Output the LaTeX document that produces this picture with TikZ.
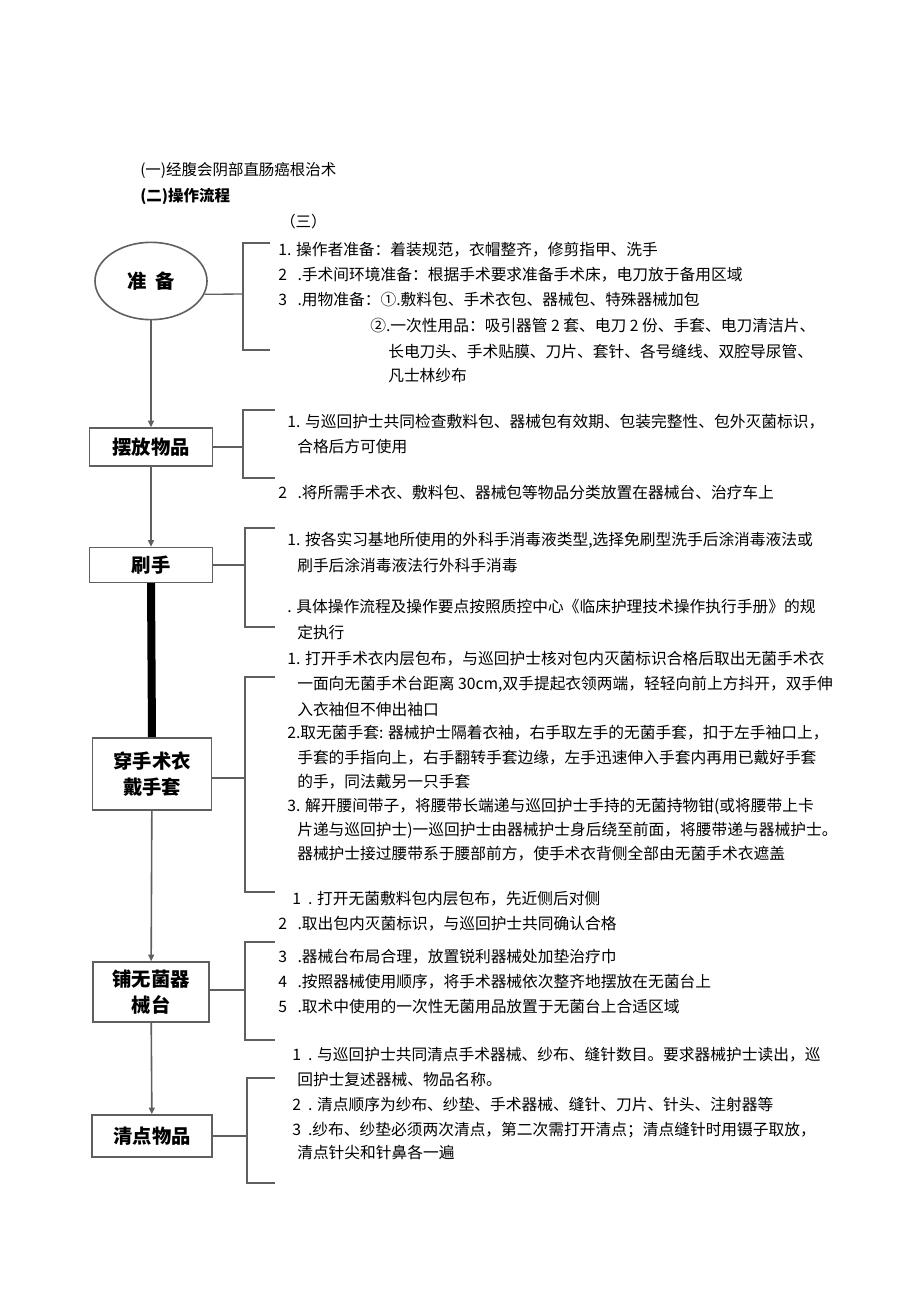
\documentclass[tikz,border=0pt]{standalone}
\usepackage{fontspec}
\setmainfont{Noto Sans CJK SC}
\usetikzlibrary{arrows.meta, calc, shapes.geometric}
\definecolor{LineGray}{RGB}{95, 95, 95}

\tikzset{
  stepbox/.style={draw=LineGray, line width=1.2pt, fill=white, align=center, inner sep=0pt,
    font=\fontsize{14.5}{19}\selectfont\bfseries},
  brk/.style={draw=LineGray, line width=1pt},
  flow/.style={draw=LineGray, line width=1.2pt, -{Triangle[length=5pt,width=4.5pt]}},
  txt/.style={anchor=west, inner sep=0pt, font=\fontsize{11.8}{14}\selectfont},
}

\begin{document}
\begin{tikzpicture}[x=0.75pt, y=-0.75pt]
\useasboundingbox (0,0) rectangle (920,1301);

% heading
\node[txt, font=\fontsize{11.6}{14}\selectfont] (h1) at (140,170) {(一)经腹会阴部直肠癌根治术};
\node[txt, font=\fontsize{11.6}{14}\selectfont\bfseries] (h2) at (140,196) {(二)操作流程};
\node[txt, font=\fontsize{11.6}{14}\selectfont] (h3) at (280,222) {（三）};

% steps
\node[stepbox, ellipse, minimum width=84pt, minimum height=58pt] (prep) at (151,281) {准\ \ 备};
\node[stepbox, minimum width=92pt, minimum height=28.5pt] (place) at (151,447) {摆放物品};
\node[stepbox, minimum width=92pt, minimum height=26pt] (scrub) at (151,565) {刷手};
\node[stepbox, minimum width=89pt, minimum height=54pt] (gown) at (152,774) {穿手术衣\\戴手套};
\node[stepbox, minimum width=87pt, minimum height=45pt] (table) at (151,992) {铺无菌器\\械台};
\node[stepbox, minimum width=90pt, minimum height=31.5pt] (count) at (152,1136) {清点物品};

\draw[flow] (prep) -- (place);
\draw[flow] (place) -- (scrub);
\draw[line width=6pt] (scrub.south) -- (gown.north);
\draw[flow] (gown) -- (table);
\draw[flow] (table) -- (count);

% brackets
\draw[brk] (270,243) -- (243,243) -- (243,350) -- (270,350);
\draw[brk] (275,410) -- (243,410) -- (243,478) -- (275,478);
\draw[brk] (275,528) -- (245,528) -- (245,627) -- (275,627);
\draw[brk] (275,677) -- (245,677) -- (245,892) -- (275,892);
\draw[brk] (275,942) -- (245,942) -- (245,1040) -- (275,1040);
\draw[brk] (275,1078) -- (247,1078) -- (247,1183) -- (275,1183);
\coordinate (b1) at (243,294);
\coordinate (b2) at (243,447);
\coordinate (b3) at (245,565);
\coordinate (b4) at (245,778);
\coordinate (b5) at (245,990);
\coordinate (b6) at (247,1136);
\draw[brk] (prep.-14) -- (b1);
\draw[brk] (place.east |- b2) -- (b2);
\draw[brk] (scrub.east |- b3) -- (b3);
\draw[brk] (gown.east |- b4) -- (b4);
\draw[brk] (table.east |- b5) -- (b5);
\draw[brk] (count.east |- b6) -- (b6);

% texts
\foreach \x/\y/\t [count=\i] in {
  278/250/{1. 操作者准备：着装规范，衣帽整齐，修剪指甲、洗手},
  278/275/{2\ \ \ .手术间环境准备：根据手术要求准备手术床，电刀放于备用区域},
  278/300/{3\ \ \ .用物准备：①.敷料包、手术衣包、器械包、特殊器械加包},
  370/326/{②.一次性用品：吸引器管 2 套、电刀 2 份、手套、电刀清洁片、},
  388/351/{长电刀头、手术贴膜、刀片、套针、各号缝线、双腔导尿管、},
  388/376/{凡士林纱布}}
  \node[txt] (pa\i) at (\x,\y) {\t};

\foreach \x/\y/\t [count=\i] in {
  287/422/{1. 与巡回护士共同检查敷料包、器械包有效期、包装完整性、包外灭菌标识，},
  297/447/{合格后方可使用},
  278/493/{2\ \ \ .将所需手术衣、敷料包、器械包等物品分类放置在器械台、治疗车上}}
  \node[txt] (pb\i) at (\x,\y) {\t};

\foreach \x/\y/\t [count=\i] in {
  287/540/{1. 按各实习基地所使用的外科手消毒液类型{,}选择免刷型洗手后涂消毒液法或},
  297/565/{刷手后涂消毒液法行外科手消毒},
  287/607/{. 具体操作流程及操作要点按照质控中心《临床护理技术操作执行手册》的规},
  297/632/{定执行}}
  \node[txt] (pc\i) at (\x,\y) {\t};

\foreach \x/\y/\t [count=\i] in {
  287/659/{1. 打开手术衣内层包布，与巡回护士核对包内灭菌标识合格后取出无菌手术衣},
  297/684/{一面向无菌手术台距离 30cm{,}双手提起衣领两端，轻轻向前上方抖开，双手伸},
  297/709/{入衣袖但不伸出袖口},
  287/733/{2.取无菌手套: 器械护士隔着衣袖，右手取左手的无菌手套，扣于左手袖口上，},
  297/758/{手套的手指向上，右手翻转手套边缘，左手迅速伸入手套内再用已戴好手套},
  297/782/{的手，同法戴另一只手套},
  287/806/{3. 解开腰间带子，将腰带长端递与巡回护士手持的无菌持物钳(或将腰带上卡},
  297/830/{片递与巡回护士)一巡回护士由器械护士身后绕至前面，将腰带递与器械护士。},
  297/854/{器械护士接过腰带系于腰部前方，使手术衣背侧全部由无菌手术衣遮盖}}
  \node[txt] (pd\i) at (\x,\y) {\t};

\foreach \x/\y/\t [count=\i] in {
  292/899/{1\ \ . 打开无菌敷料包内层包布，先近侧后对侧},
  278/924/{2\ \ \ .取出包内灭菌标识，与巡回护士共同确认合格},
  278/957/{3\ \ \ .器械台布局合理，放置锐利器械处加垫治疗巾},
  278/982/{4\ \ \ .按照器械使用顺序，将手术器械依次整齐地摆放在无菌台上},
  278/1007/{5\ \ \ .取术中使用的一次性无菌用品放置于无菌台上合适区域}}
  \node[txt] (pe\i) at (\x,\y) {\t};

\foreach \x/\y/\t [count=\i] in {
  292/1055/{1\ \ . 与巡回护士共同清点手术器械、纱布、缝针数目。要求器械护士读出，巡},
  297/1080/{回护士复述器械、物品名称。},
  292/1105/{2\ \ . 清点顺序为纱布、纱垫、手术器械、缝针、刀片、针头、注射器等},
  292/1130/{3\ \ .纱布、纱垫必须两次清点，第二次需打开清点；清点缝针时用镊子取放，},
  297/1152/{清点针尖和针鼻各一遍}}
  \node[txt] (pf\i) at (\x,\y) {\t};
\end{tikzpicture}
\end{document}
